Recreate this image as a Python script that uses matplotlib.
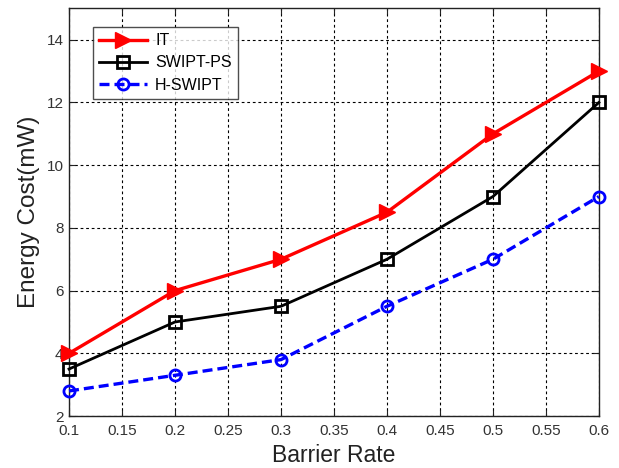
import matplotlib
matplotlib.use("Agg")
import matplotlib.pyplot as plt
import numpy as np

plt.rcParams['font.family'] = ['Liberation Sans', 'DejaVu Sans']

barrier_rate = [0.1, 0.2, 0.3, 0.4, 0.5, 0.6]
it_cost = [4.0, 6.0, 7.0, 8.5, 11.0, 13.0]
swipt_ps_cost = [3.5, 5.0, 5.5, 7.0, 9.0, 12.0]
h_swipt_cost = [2.8, 3.3, 3.8, 5.5, 7.0, 9.0]
x_ticks = [0.1, 0.15, 0.2, 0.25, 0.3, 0.35, 0.4, 0.45, 0.5, 0.55, 0.6]
x_tick_labels = ['0.1', '0.15', '0.2', '0.25', '0.3', '0.35', '0.4', '0.45', '0.5', '0.55', '0.6']
y_ticks = [2, 4, 6, 8, 10, 12, 14]

fig = plt.figure(figsize=(6.19, 4.68), dpi=100)
ax = fig.add_axes([0.1115, 0.111, 0.856, 0.871])

ax.plot(barrier_rate, it_cost, color='red', linewidth=2.4, marker='>', markersize=11,
        markerfacecolor='red', markeredgecolor='red', label='IT', zorder=3, clip_on=False)
ax.plot(barrier_rate, swipt_ps_cost, color='black', linewidth=2.0, marker='s', markersize=8,
        markerfacecolor='none', markeredgecolor='black', markeredgewidth=2, label='SWIPT-PS',
        zorder=3, clip_on=False)
ax.plot(barrier_rate, h_swipt_cost, color='blue', linewidth=2.4, linestyle=(0, (3, 1.5)), marker='o',
        markersize=8, markerfacecolor='none', markeredgecolor='blue', markeredgewidth=2,
        label='H-SWIPT', zorder=3, clip_on=False)

ax.set_xlim(0.1, 0.6)
ax.set_ylim(2, 15)
ax.set_xticks(x_ticks)
ax.set_xticklabels(x_tick_labels)
ax.set_yticks(y_ticks)
ax.tick_params(direction='in', labelsize=11, labelcolor='#333333', color='#222222', length=4,
               top=True, right=True)
ax.tick_params(axis='x', pad=6)
ax.tick_params(axis='y', pad=4)
ax.grid(True, color='black', linestyle=(0, (2.5, 2.5)), linewidth=0.8)
for s in ax.spines.values():
    s.set_linewidth(1.0)
    s.set_color('#222222')

ax.set_xlabel('Barrier Rate', fontsize=16.5, color='#222222', labelpad=4)
ax.set_ylabel('Energy Cost(mW)', fontsize=17.5, color='#222222', labelpad=5)

leg = ax.legend(loc='upper left', bbox_to_anchor=(0.045, 0.955), fontsize=11.5, frameon=True,
                fancybox=False, edgecolor='#222222', handlelength=3.0, borderpad=0.4,
                labelspacing=0.45, handletextpad=0.5, borderaxespad=0)
leg.get_frame().set_linewidth(1.0)

fig.savefig('out.png', dpi=100)
